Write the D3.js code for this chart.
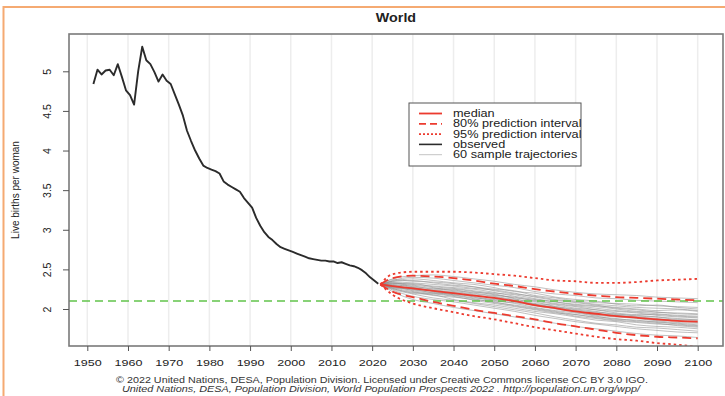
<!DOCTYPE html>
<html>
<head>
<meta charset="utf-8">
<script src="https://cdn.jsdelivr.net/npm/d3@7"></script>
<style>
  html, body { margin: 0; padding: 0; background: #fff; }
  svg { display: block; font-family: "Liberation Sans", Arial, Helvetica, sans-serif; }
</style>
</head>
<body>
<svg id="chart" width="725" height="396"></svg>
<script>
// ---------------- DATA ----------------
const title = "World";
const yLabel = "Live births per woman";
const xTicks = [1950, 1960, 1970, 1980, 1990, 2000, 2010, 2020, 2030, 2040, 2050, 2060, 2070, 2080, 2090, 2100];
const yTicks = [2, 2.5, 3, 3.5, 4, 4.5, 5];
const replacementLevel = 2.1;

// observed total fertility (annual, plotted at mid-year)
const obsYears = [1951,1952,1953,1954,1955,1956,1957,1958,1959,1960,
  1961,1962,1963,1964,1965,1966,1967,1968,1969,1970,
  1971,1972,1973,1974,1975,1976,1977,1978,1979,1980,
  1981,1982,1983,1984,1985,1986,1987,1988,1989,1990,
  1991,1992,1993,1994,1995,1996,1997,1998,1999,2000,
  2001,2002,2003,2004,2005,2006,2007,2008,2009,2010,
  2011,2012,2013,2014,2015,2016,2017,2018,2019,2020,2021];
const obsValues = [4.84,5.02,4.96,5.01,5.02,4.95,5.09,4.93,4.76,4.70,
  4.58,5.00,5.31,5.14,5.09,4.99,4.87,4.96,4.88,4.84,
  4.71,4.58,4.44,4.25,4.12,4.00,3.90,3.81,3.78,3.76,
  3.74,3.71,3.61,3.57,3.54,3.51,3.48,3.40,3.34,3.28,
  3.15,3.05,2.97,2.91,2.87,2.82,2.78,2.76,2.74,2.72,
  2.70,2.68,2.66,2.64,2.63,2.62,2.61,2.61,2.60,2.60,
  2.58,2.59,2.57,2.55,2.54,2.52,2.49,2.45,2.40,2.36,2.32];

// projections
const projYears = [2022,2025,2030,2035,2040,2045,2050,2055,2060,2065,2070,2075,2080,2085,2090,2095,2100];
const median  = [2.31,2.29,2.26,2.23,2.20,2.17,2.14,2.10,2.05,2.01,1.97,1.94,1.91,1.89,1.87,1.85,1.84];
const upper80 = [2.31,2.39,2.42,2.41,2.39,2.36,2.32,2.29,2.25,2.22,2.19,2.17,2.15,2.14,2.13,2.12,2.11];
const lower80 = [2.31,2.22,2.15,2.09,2.04,1.99,1.95,1.91,1.87,1.82,1.78,1.74,1.70,1.67,1.65,1.64,1.63];
const upper95 = [2.31,2.44,2.47,2.47,2.47,2.46,2.44,2.42,2.39,2.36,2.35,2.33,2.33,2.34,2.36,2.37,2.38];
const lower95 = [2.31,2.18,2.07,2.01,1.96,1.91,1.87,1.82,1.77,1.73,1.69,1.65,1.62,1.60,1.57,1.55,1.52];

// sample trajectories (estimated from the grey bundle)
const traj01 = [2.31,2.35,2.38,2.36,2.33,2.31,2.27,2.22,2.20,2.15,2.12,2.10,2.06,2.04,2.05,2.02,2.00];
const traj02 = [2.31,2.26,2.20,2.18,2.12,2.08,2.05,2.01,1.97,1.94,1.90,1.86,1.84,1.80,1.78,1.77,1.75];
const traj03 = [2.31,2.30,2.29,2.25,2.24,2.20,2.17,2.15,2.10,2.06,2.03,1.99,1.97,1.95,1.92,1.90,1.89];
const traj04 = [2.31,2.33,2.31,2.29,2.27,2.25,2.21,2.16,2.12,2.09,2.06,2.04,2.02,2.00,1.98,1.99,1.97];
const traj05 = [2.31,2.24,2.16,2.12,2.09,2.05,2.01,1.97,1.92,1.88,1.84,1.81,1.78,1.75,1.73,1.71,1.70];
const traj06 = [2.31,2.36,2.40,2.39,2.36,2.33,2.30,2.27,2.22,2.19,2.17,2.14,2.13,2.11,2.10,2.09,2.08];
const traj07 = [2.31,2.28,2.24,2.21,2.18,2.16,2.11,2.07,2.02,1.98,1.95,1.91,1.87,1.86,1.83,1.82,1.80];
const traj08 = [2.31,2.31,2.27,2.24,2.22,2.19,2.16,2.12,2.09,2.03,1.99,1.96,1.94,1.91,1.90,1.88,1.86];
const traj09 = [2.31,2.27,2.22,2.17,2.15,2.12,2.09,2.04,2.00,1.96,1.91,1.88,1.85,1.83,1.81,1.80,1.78];
const traj10 = [2.31,2.34,2.33,2.31,2.29,2.26,2.24,2.20,2.15,2.11,2.08,2.05,2.01,1.99,1.96,1.95,1.94];
const traj11 = [2.31,2.29,2.23,2.20,2.20,2.15,2.10,2.08,2.04,2.00,1.96,1.92,1.90,1.88,1.85,1.83,1.82];
const traj12 = [2.31,2.32,2.30,2.27,2.23,2.21,2.19,2.13,2.07,2.05,2.01,1.99,1.95,1.93,1.93,1.91,1.90];
const traj13 = [2.31,2.25,2.19,2.14,2.11,2.07,2.03,1.99,1.95,1.90,1.86,1.82,1.80,1.77,1.76,1.74,1.72];
const traj14 = [2.31,2.37,2.35,2.34,2.32,2.28,2.25,2.23,2.17,2.14,2.10,2.08,2.07,2.06,2.04,2.03,2.02];
const traj15 = [2.31,2.28,2.27,2.22,2.18,2.14,2.12,2.09,2.05,2.02,1.98,1.95,1.92,1.90,1.88,1.86,1.85];
const traj16 = [2.31,2.30,2.25,2.23,2.21,2.18,2.13,2.10,2.06,2.01,1.97,1.93,1.92,1.89,1.86,1.85,1.83];
const traj17 = [2.31,2.33,2.28,2.26,2.25,2.22,2.18,2.14,2.11,2.07,2.04,2.01,1.98,1.96,1.94,1.92,1.91];
const traj18 = [2.31,2.26,2.21,2.19,2.16,2.11,2.07,2.03,1.99,1.95,1.93,1.89,1.86,1.84,1.82,1.79,1.77];
const traj19 = [2.31,2.38,2.42,2.43,2.41,2.38,2.35,2.31,2.28,2.24,2.21,2.19,2.18,2.17,2.15,2.14,2.13];
const traj20 = [2.31,2.22,2.12,2.07,2.02,1.98,1.94,1.90,1.86,1.82,1.78,1.75,1.72,1.69,1.67,1.66,1.64];
const traj21 = [2.31,2.32,2.32,2.28,2.26,2.23,2.20,2.18,2.13,2.09,2.05,2.03,2.00,1.97,1.96,1.94,1.93];
const traj22 = [2.31,2.27,2.25,2.20,2.17,2.13,2.08,2.05,2.01,1.97,1.93,1.90,1.88,1.85,1.84,1.81,1.79];
const traj23 = [2.31,2.35,2.36,2.33,2.30,2.28,2.23,2.19,2.16,2.12,2.09,2.06,2.04,2.02,2.01,2.00,1.98];
const traj24 = [2.31,2.29,2.26,2.23,2.19,2.17,2.15,2.11,2.06,2.03,2.00,1.97,1.93,1.92,1.90,1.87,1.87];
const trajectories = [traj01,traj02,traj03,traj04,traj05,traj06,traj07,traj08,traj09,traj10,traj11,traj12,
  traj13,traj14,traj15,traj16,traj17,traj18,traj19,traj20,traj21,traj22,traj23,traj24];

const legendLabels = ["median", "80% prediction interval", "95% prediction interval", "observed", "60 sample trajectories"];
const footer1 = "\u00A9 2022 United Nations, DESA, Population Division. Licensed under Creative Commons license CC BY 3.0 IGO.";
const footer2 = "United Nations, DESA, Population Division, World Population Prospects 2022 . http://population.un.org/wpp/";

// ---------------- LAYOUT ----------------
const box = { left: 69, top: 34, right: 723, bottom: 346 };
const RED = "#ec3b2f";
const FONT = "'Liberation Sans', Arial, sans-serif";

// widen text horizontally (the reference image is stretched sideways)
function widen(sel, f) {
  sel.each(function () {
    const L = this.getComputedTextLength();
    d3.select(this).attr("textLength", L * f).attr("lengthAdjust", "spacingAndGlyphs");
  });
}

const svg = d3.select("#chart");

// orange frame
svg.append("path")
  .attr("d", "M3.5,400 L3.5,7 L730,7")
  .attr("fill", "none").attr("stroke", "#f5aa72").attr("stroke-width", 2);

const x = d3.scaleLinear().domain([1950, 2100]).range([87.3, 697.7]);
const y = d3.scaleLinear().domain([2, 5]).range([309, 71.3]);

svg.append("defs").append("clipPath").attr("id", "plotclip")
  .append("rect").attr("x", box.left).attr("y", box.top)
  .attr("width", box.right - box.left).attr("height", box.bottom - box.top);

// faint vertical grid
svg.append("g").selectAll("line").data(xTicks).join("line")
  .attr("x1", d => x(d)).attr("x2", d => x(d))
  .attr("y1", box.top).attr("y2", box.bottom)
  .attr("stroke", "#ededed").attr("stroke-width", 1.5);

const plot = svg.append("g").attr("clip-path", "url(#plotclip)");

// sample trajectories
const projLine = d3.line().x((d, i) => x(projYears[i])).y(d => y(d)).curve(d3.curveMonotoneX);
plot.append("g").selectAll("path").data(trajectories).join("path")
  .attr("d", d => projLine(d))
  .attr("fill", "none").attr("stroke", "#8c8c8c").attr("stroke-width", 1).attr("stroke-opacity", 0.55);

// replacement level
plot.append("line")
  .attr("x1", box.left).attr("x2", box.right)
  .attr("y1", y(replacementLevel)).attr("y2", y(replacementLevel))
  .attr("stroke", "#62c44b").attr("stroke-width", 1.5).attr("stroke-dasharray", "8,5");

// observed
const obsLine = d3.line().x((d, i) => x(obsYears[i] + 0.5)).y(d => y(d));
plot.append("path").attr("d", obsLine(obsValues))
  .attr("fill", "none").attr("stroke", "#2b2b2b").attr("stroke-width", 1.9).attr("stroke-linejoin", "round");

// intervals
[[upper95, "2.5,3"], [lower95, "2.5,3"], [upper80, "9,5"], [lower80, "9,5"]].forEach(([vals, dash]) => {
  plot.append("path").attr("d", projLine(vals))
    .attr("fill", "none").attr("stroke", RED).attr("stroke-width", 1.8)
    .attr("stroke-dasharray", dash);
});
plot.append("path").attr("d", projLine(median))
  .attr("fill", "none").attr("stroke", RED).attr("stroke-width", 1.8);

// box
svg.append("rect")
  .attr("x", box.left).attr("y", box.top)
  .attr("width", box.right - box.left).attr("height", box.bottom - box.top)
  .attr("fill", "none").attr("stroke", "#7a7a7a").attr("stroke-width", 1.6);

// axes
const xAxis = d3.axisBottom(x).tickValues(xTicks).tickSize(5).tickPadding(8).tickFormat(d3.format("d"));
const gx = svg.append("g").attr("transform", `translate(0,${box.bottom})`).call(xAxis);
gx.select(".domain").remove();
gx.selectAll("line").attr("stroke", "#555");
gx.selectAll("text").attr("font-size", 9.8).attr("fill", "#222").attr("font-family", FONT);
widen(gx.selectAll("text"), 1.28);

const yAxis = d3.axisLeft(y).tickValues(yTicks).tickSize(6).tickFormat(d => String(d));
const gy = svg.append("g").attr("transform", `translate(${box.left},0)`).call(yAxis);
gy.select(".domain").remove();
gy.selectAll("line").attr("stroke", "#555");
gy.selectAll("text")
  .attr("font-size", 10.5).attr("fill", "#222").attr("font-family", FONT)
  .attr("x", null)
  .attr("text-anchor", "middle")
  .attr("transform", "translate(-22,0) rotate(-90)")
  .attr("dy", "0.35em");

// title
const tt = svg.append("text").attr("x", (box.left + box.right) / 2).attr("y", 22)
  .attr("text-anchor", "middle").attr("font-weight", "bold").attr("font-size", 13)
  .attr("fill", "#222").text(title);
widen(tt, 1.1);

// y label
svg.append("text")
  .attr("transform", `translate(19,${(box.top + box.bottom) / 2}) rotate(-90)`)
  .attr("text-anchor", "middle").attr("font-size", 10).attr("fill", "#222").text(yLabel);

// legend
const lg = { x: 409, y: 103, w: 172, h: 63 };
svg.append("defs").append("clipPath").attr("id", "legclip")
  .append("rect").attr("x", lg.x).attr("y", lg.y).attr("width", lg.w).attr("height", lg.h);
svg.append("rect").attr("x", lg.x).attr("y", lg.y).attr("width", lg.w).attr("height", lg.h)
  .attr("fill", "#fff").attr("stroke", "#555").attr("stroke-width", 1);
const legStyles = [
  { c: RED, dash: null, w: 1.8 },
  { c: RED, dash: "7,4", w: 1.8 },
  { c: RED, dash: "2,2", w: 1.8 },
  { c: "#2b2b2b", dash: null, w: 1.6 },
  { c: "#c4c4c4", dash: null, w: 1 }
];
const lgG = svg.append("g").attr("clip-path", "url(#legclip)");
const rows = lgG.selectAll("g").data(legendLabels).join("g")
  .attr("transform", (d, i) => `translate(${lg.x},${lg.y + 10.5 + i * 10.3})`);
rows.append("line").attr("x1", 10).attr("x2", 33).attr("y1", 0).attr("y2", 0)
  .attr("stroke", (d, i) => legStyles[i].c)
  .attr("stroke-width", (d, i) => legStyles[i].w)
  .attr("stroke-dasharray", (d, i) => legStyles[i].dash);
const lgText = rows.append("text").attr("x", 44).attr("y", 0).attr("dy", "0.35em")
  .attr("font-size", 10).attr("fill", "#222").text(d => d);
widen(lgText, 1.27);

// footer
const f1 = svg.append("text").attr("x", 382).attr("y", 383).attr("text-anchor", "middle")
  .attr("font-size", 8.4).attr("fill", "#333").text(footer1);
const f2 = svg.append("text").attr("x", 381).attr("y", 392).attr("text-anchor", "middle")
  .attr("font-size", 8.4).attr("font-style", "italic").attr("fill", "#333").text(footer2);
f1.attr("textLength", 532).attr("lengthAdjust", "spacingAndGlyphs");
f2.attr("textLength", 518).attr("lengthAdjust", "spacingAndGlyphs");
</script>
</body>
</html>
